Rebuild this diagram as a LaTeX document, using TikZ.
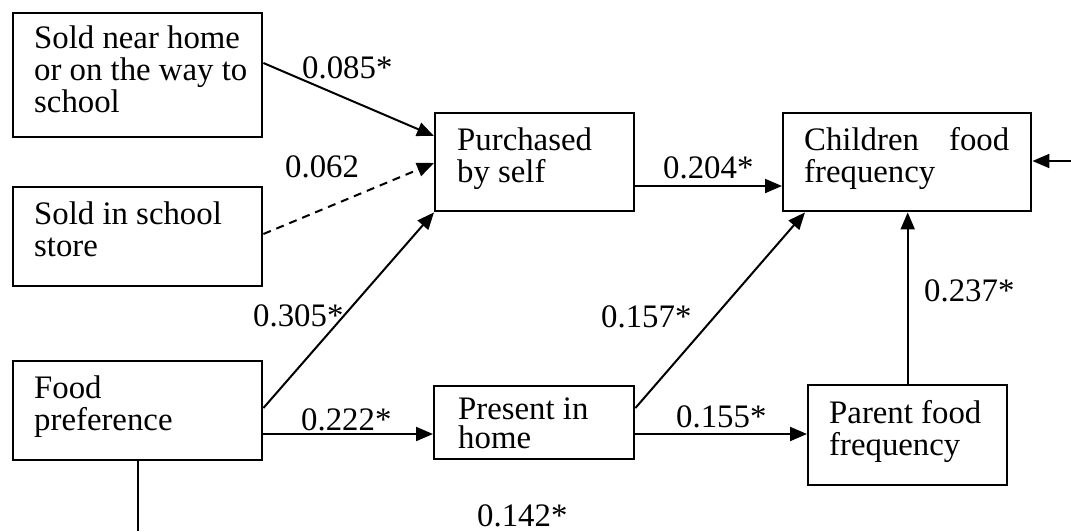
\documentclass[tikz,border=0pt]{standalone}
\usepackage{fontspec}
\setmainfont{Liberation Serif}
\usetikzlibrary{arrows.meta}
\newcommand{\boxtxt}[5]{\hspace*{#1}\parbox[c][#3][t]{\dimexpr#2-#1\relax}{\raggedright\rule{0pt}{#4}#5}}
\begin{document}
\begin{tikzpicture}[x=1pt,y=-1pt,
  box/.style={draw, line width=2.4pt, inner sep=0pt, anchor=north west, font=\fontsize{32.8pt}{32pt}\selectfont},
  lbl/.style={inner sep=0pt, anchor=base west, font=\fontsize{32.8pt}{32pt}\selectfont},
  conn/.style={line width=2pt},
  arr/.style={conn, -{Triangle[length=17pt,width=14pt]}}]
\useasboundingbox (0,0) rectangle (1071,531);

\node[box] (a) at (12,12) {\boxtxt{21pt}{249pt}{124pt}{35pt}{Sold near home\\or on the way to\\school}};
\node[box] (b) at (12,186) {\boxtxt{21pt}{249pt}{99pt}{37pt}{Sold in school\\store}};
\node[box] (c) at (12,360) {\boxtxt{21pt}{249pt}{99pt}{37pt}{Food\\preference}};
\node[box] (d) at (434,112) {\boxtxt{22pt}{199pt}{98pt}{37pt}{Purchased\\by self}};
\node[box] (e) at (782,112) {\boxtxt{21pt}{248pt}{98pt}{37pt}{\hbox to 205pt{Children\hfill food}\\frequency}};
\node[box] (f) at (433,385) {\boxtxt{24pt}{200pt}{73pt}{33pt}{\fontsize{32.8pt}{29pt}\selectfont Present in\\home}};
\node[box] (g) at (807,384) {\boxtxt{21pt}{199pt}{100pt}{38pt}{Parent food\\frequency}};

\draw[arr] ([yshift=-51pt]a.north east) -- ([yshift=-24pt]d.north west);
\draw[arr, dash pattern=on 8pt off 6pt] ([yshift=-48pt]b.north east) -- ([yshift=-51pt]d.north west);
\draw[arr] ([yshift=-48pt]c.north east) -- (d.south west);
\draw[arr] ([yshift=-74pt]c.north east) coordinate (p1) -- (p1 -| f.west);
\draw[arr] ([yshift=-74pt]d.north east) coordinate (p2) -- (p2 -| e.west);
\draw[arr] ([yshift=-23pt]f.north east) -- ([xshift=23pt]e.south west);
\draw[arr] ([yshift=-49pt]f.north east) coordinate (p3) -- (p3 -| g.west);
\draw[arr] (g.north) -- (g.north |- e.south);
\coordinate (rin) at (1071,161);
\draw[arr] (rin) -- (rin -| e.east);
\coordinate (cout) at (136.5,531);
\draw[conn] (c.south) -- (c.south |- cout);

\node[lbl] (l1) at (302,78) {0.085*};
\node[lbl] (l2) at (285,177) {0.062};
\node[lbl] (l3) at (663,178) {0.204*};
\node[lbl] (l4) at (253,326) {0.305*};
\node[lbl] (l5) at (601,327) {0.157*};
\node[lbl] (l6) at (924,301) {0.237*};
\node[lbl] (l7) at (301,430) {0.222*};
\node[lbl] (l8) at (676,427) {0.155*};
\node[lbl] (l9) at (477,526) {0.142*};
\end{tikzpicture}
\end{document}
